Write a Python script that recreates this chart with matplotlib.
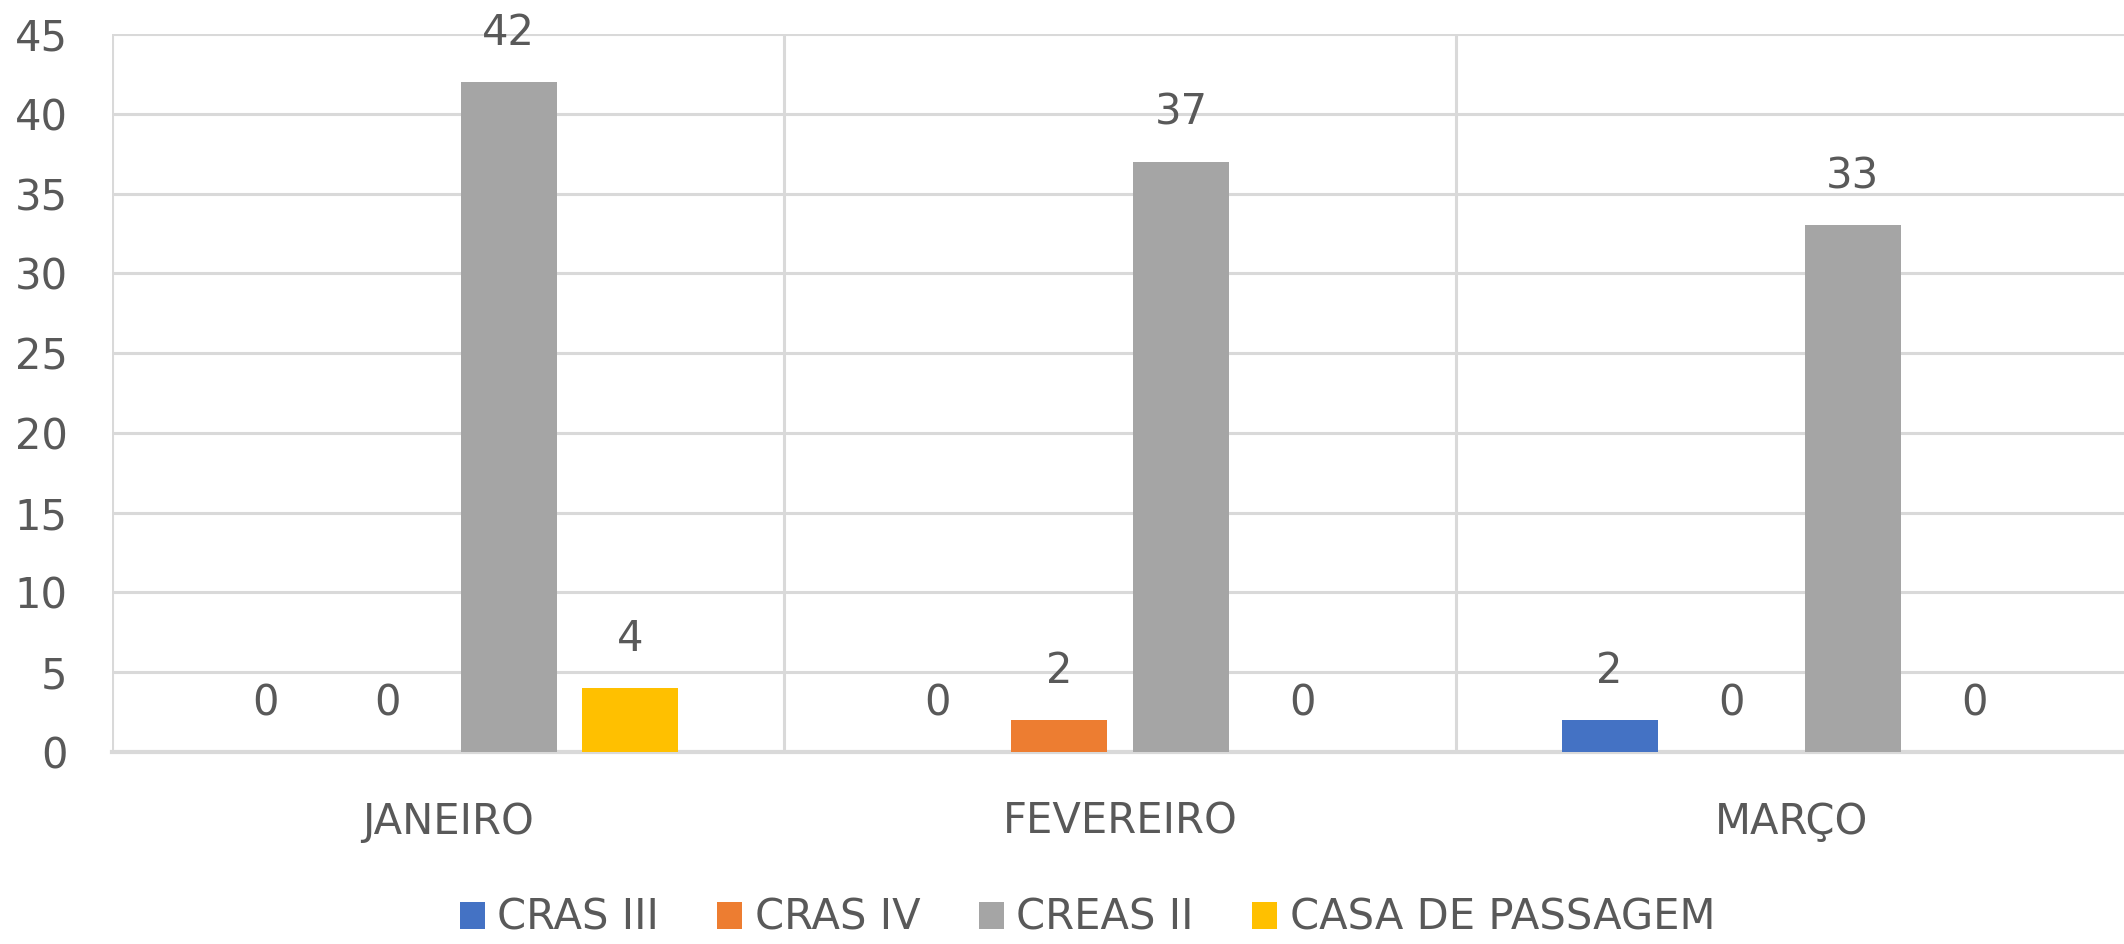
import numpy as np
import matplotlib
matplotlib.use('Agg')
import matplotlib.pyplot as plt
from matplotlib.patches import Patch

# dados
meses = ['JANEIRO', 'FEVEREIRO', 'MARÇO']
series = ['CRAS III', 'CRAS IV', 'CREAS II', 'CASA DE PASSAGEM']
cras_iii = [0, 0, 2]
cras_iv = [0, 2, 0]
creas_ii = [42, 37, 33]
casa_passagem = [4, 0, 0]
cores = ['#4472C4', '#ED7D31', '#A5A5A5', '#FFC000']
yticks = [0, 5, 10, 15, 20, 25, 30, 35, 40, 45]

plt.rcParams['font.family'] = ['DejaVu Sans']
texto = '#595959'
grade = '#D9D9D9'

fig = plt.figure(figsize=(21.24, 9.44), dpi=100)
ax = fig.add_axes([112 / 2124, 1 - 752 / 944, 2016 / 2124, 718 / 944])

x = np.arange(len(meses))
passo = 0.181
largura = 0.143
valores = [cras_iii, cras_iv, creas_ii, casa_passagem]
for i, (nome, vals, cor) in enumerate(zip(series, valores, cores)):
    pos = x + (i - 1.5) * passo
    ax.bar(pos, vals, width=largura, color=cor, label=nome, zorder=3)
    for p, v in zip(pos, vals):
        ax.annotate(str(v), (p, v), xytext=(0, 20), textcoords='offset points',
                    ha='center', va='bottom', fontsize=30, color=texto)

ax.set_xlim(-0.5, 2.5)
ax.set_ylim(0, 45)
ax.set_yticks(yticks)
ax.set_xticks(x)
ax.set_xticklabels(meses)
ax.set_xticks([-0.5, 0.5, 1.5], minor=True)
ax.tick_params(axis='y', length=0, pad=32, labelsize=30, labelcolor=texto)
ax.tick_params(axis='x', which='both', length=0, pad=35, labelsize=30, labelcolor=texto)
ax.grid(axis='y', color=grade, linewidth=2.2, zorder=0)
ax.grid(axis='x', which='minor', color=grade, linewidth=2.2, zorder=0)
for lado in ['top', 'right', 'left']:
    ax.spines[lado].set_visible(False)
ax.spines['bottom'].set_color(grade)
ax.spines['bottom'].set_linewidth(3)

handles = [Patch(facecolor=c, label=s) for s, c in zip(series, cores)]
fig.legend(handles=handles, loc='center', bbox_to_anchor=(0.512, 1 - 918 / 944),
           ncol=4, frameon=False, fontsize=30, labelcolor=texto,
           handlelength=0.6, handleheight=0.6, handletextpad=0.3, columnspacing=1.4)

fig.savefig('out.png', dpi=100)
